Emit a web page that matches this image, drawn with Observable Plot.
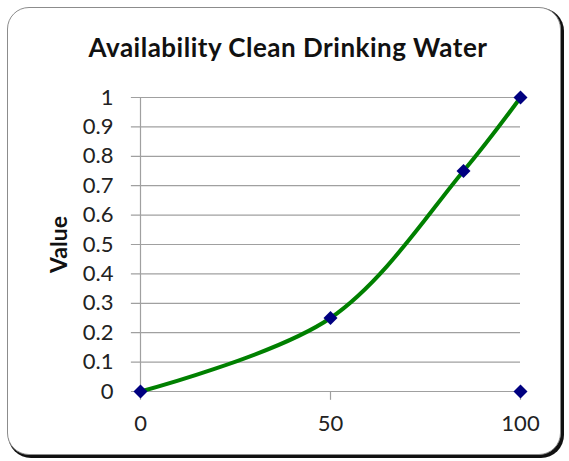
<!DOCTYPE html>
<html>
<head>
<meta charset="utf-8">
<script src="https://cdn.jsdelivr.net/npm/d3@7"></script>
<script src="https://cdn.jsdelivr.net/npm/@observablehq/plot@0.6"></script>
<style>
  html, body { margin: 0; padding: 0; background: #fff; }
  #wrap { position: relative; width: 569px; height: 461px; overflow: hidden; }
  #border { position: absolute; left: 7px; top: 7px; width: 552px; height: 446px;
    border: 1.5px solid #8c8c8c; border-radius: 22px;
    box-shadow: 2px 2px 0 1px #111; background: #fff; }
  #title { position: absolute; left: 0; width: 576px; top: 31px; text-align: center;
    font: bold 26px Lato, "Open Sans", sans-serif; color: #111; letter-spacing: 0.5px; }
  #chart { position: absolute; left: 0; top: 0; }
</style>
</head>
<body>
<div id="wrap">
  <div id="border"></div>
  <div id="title">Availability Clean Drinking Water</div>
  <div id="chart"></div>
</div>
<script>
const titleText = "Availability Clean Drinking Water";
const yLabel = "Value";
const curveX = [0, 50, 85, 100];
const curveY = [0, 0.25, 0.75, 1];
const pointX = [0, 50, 85, 100, 100];
const pointY = [0, 0.25, 0.75, 1, 0];
const yTicks = [0, 0.1, 0.2, 0.3, 0.4, 0.5, 0.6, 0.7, 0.8, 0.9, 1];
const xTicks = [0, 50, 100];

const curve = curveX.map((x, i) => ({x, y: curveY[i]}));
const points = pointX.map((x, i) => ({x, y: pointY[i]}));

const font = "Lato, 'Open Sans', sans-serif";
const chart = Plot.plot({
  width: 569,
  height: 461,
  marginLeft: 140,
  marginRight: 49,
  marginTop: 97,
  marginBottom: 70,
  style: {background: "transparent", fontFamily: font, fontSize: "22px", color: "#222", overflow: "visible"},
  x: {domain: [0, 100]},
  y: {domain: [0, 1]},
  marks: [
    Plot.ruleY(yTicks.filter(d => d > 0), {x1: -2.4, x2: 100, stroke: "#a0a0a0", strokeWidth: 1.2}),
    Plot.ruleY([0], {x1: -2.4, x2: 100, stroke: "#a0a0a0", strokeWidth: 1.2}),
    Plot.ruleX([0], {y1: -0.03, y2: 1, stroke: "#a0a0a0", strokeWidth: 1.2}),
    Plot.ruleX([50, 100], {y1: -0.03, y2: 0, stroke: "#a0a0a0", strokeWidth: 1.2}),
    Plot.axisY({ticks: yTicks, tickSize: 0, tickPadding: 27, tickFormat: d => String(+d.toFixed(1)), label: null, fontSize: 22}),
    Plot.axisX({ticks: xTicks, tickSize: 0, tickPadding: 24, label: null, fontSize: 22}),
    Plot.text([yLabel], {frameAnchor: "left", textAnchor: "middle", dx: -81, rotate: -90, fontWeight: "bold", fontSize: 23, fill: "#111"}),
    Plot.line(curve, {x: "x", y: "y", curve: "catmull-rom", stroke: "#008000", strokeWidth: 4}),
    Plot.dot(points, {x: "x", y: "y", symbol: "diamond2", r: 6.3, fill: "#000080", stroke: "none"})
  ]
});
document.getElementById("chart").appendChild(chart);
</script>
</body>
</html>
